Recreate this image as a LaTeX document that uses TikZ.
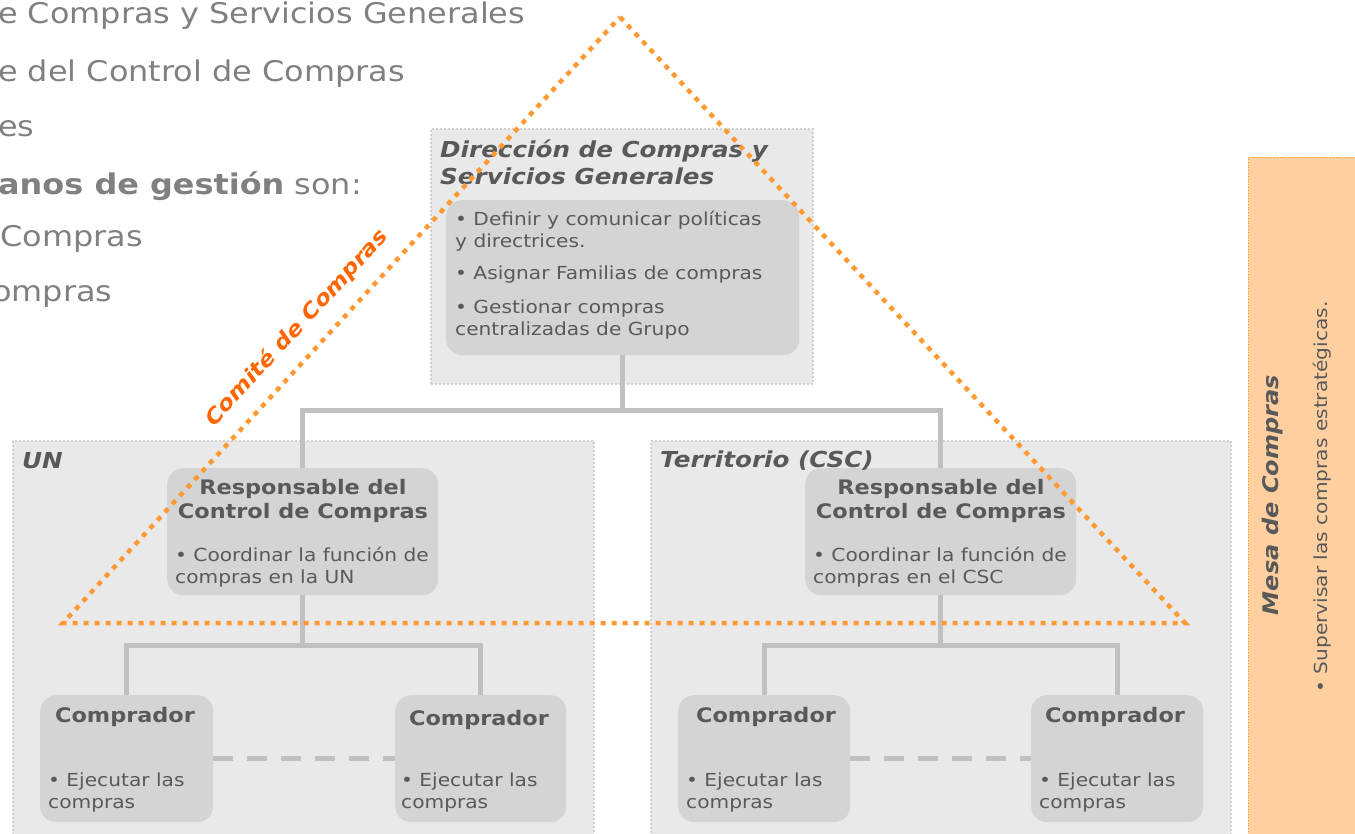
\documentclass[tikz,border=0pt]{standalone}
\usepackage{fontspec}
\setmainfont{DejaVu Sans}[FakeStretch=1.12]
\usepackage{tikz}
\usetikzlibrary{positioning}

\definecolor{txtdark}{HTML}{595959}
\definecolor{txtlight}{HTML}{808080}
\definecolor{outerfill}{HTML}{E9E9E9}
\definecolor{outerline}{HTML}{D0D0D0}
\definecolor{innerfill}{HTML}{D4D4D4}
\definecolor{connline}{HTML}{C0C0C0}
\definecolor{triorange}{HTML}{FF9933}
\definecolor{comiteorange}{HTML}{FF6600}
\definecolor{mesafill}{HTML}{FFCF9F}

\newcommand{\slidefont}{\fontsize{28.5}{32}\selectfont}
\newcommand{\boxbody}{\fontsize{18}{22}\selectfont}
\newcommand{\boxhead}{\fontsize{20}{24}\selectfont\bfseries}
\newcommand{\grouptitle}{\fontsize{22}{27}\selectfont\bfseries\itshape}

\tikzset{
  groupbox/.style={draw=outerline, fill=outerfill, dotted, line width=2pt,
    anchor=north west, inner sep=0pt},
  rolebox/.style={fill=innerfill, rounded corners=16pt, anchor=north west, inner sep=0pt},
  conn/.style={draw=connline, line width=5pt},
  dashconn/.style={draw=connline, line width=5pt, dash pattern=on 20pt off 14pt},
  trianglepath/.style={draw=triorange, line width=4.5pt, dash pattern=on 5pt off 6pt},
  bodytext/.style={text=txtdark, font=\boxbody, align=left, inner sep=0pt},
  headtext/.style={text=txtdark, font=\boxhead, align=center, inner sep=0pt},
  titletext/.style={text=txtdark, font=\grouptitle, align=left, inner sep=0pt},
}

\begin{document}
\begin{tikzpicture}[x=1pt, y=-1pt]

  \useasboundingbox (0,0) rectangle (1355,834);

  % Slide text behind the diagram (cut at the left edge).
  \node[text=txtlight, font=\slidefont, anchor=base west, inner sep=0pt] (s1) at (-2,24) {e Compras y Servicios Generales};
  \node[text=txtlight, font=\slidefont, anchor=base west, inner sep=0pt] (s2) at (-2,82) {e del Control de Compras};
  \node[text=txtlight, font=\slidefont, anchor=base west, inner sep=0pt] (s3) at (-2,137) {es};
  \node[text=txtlight, font=\slidefont, anchor=base west, inner sep=0pt] (s4) at (-2,195) {\textbf{anos de gestión} son:};
  \node[text=txtlight, font=\slidefont, anchor=base west, inner sep=0pt] (s5) at (0,247) {Compras};
  \node[text=txtlight, font=\slidefont, anchor=base west, inner sep=0pt] (s6) at (-8,302) {ompras};

  % Group boxes.
  \node[groupbox, minimum width=382pt, minimum height=255pt] (dir) at (430,128) {};
  \node[groupbox, minimum width=581pt, minimum height=410pt] (un) at (12,440) {};
  \node[groupbox, minimum width=580pt, minimum height=410pt] (csc) at (650,440) {};

  % Role boxes.
  \node[rolebox, minimum width=353pt, minimum height=155pt] (dirin) at (446,200) {};
  \node[rolebox, minimum width=271pt, minimum height=127pt] (respun) at (167,468) {};
  \node[rolebox, minimum width=271pt, minimum height=127pt] (respcsc) at (805,468) {};
  \node[rolebox, minimum width=173pt, minimum height=127pt] (compun1) at (40,695) {};
  \node[rolebox, minimum width=171pt, minimum height=127pt] (compun2) at (395,695) {};
  \node[rolebox, minimum width=172pt, minimum height=127pt] (compcsc1) at (678,695) {};
  \node[rolebox, minimum width=172pt, minimum height=127pt] (compcsc2) at (1031,695) {};

  % Connectors.
  \draw[conn] (dirin.south) -- ++(0,55) -| (respun.north);
  \draw[conn] (dirin.south) -- ++(0,55) -| (respcsc.north);
  \draw[conn] (respun.south) -- ++(0,50) -| (compun1.north);
  \draw[conn] (respun.south) -- ++(0,50) -| (compun2.north);
  \draw[conn] (respcsc.south) -- ++(0,50) -| (compcsc1.north);
  \draw[conn] (respcsc.south) -- ++(0,50) -| (compcsc2.north);
  \draw[dashconn] (compun1.east) -- (compun2.west);
  \draw[dashconn] (compcsc1.east) -- (compcsc2.west);

  % Group titles.
  \node[titletext, anchor=west] (dirtitle) at (440,162) {Dirección de Compras y\\Servicios Generales};
  \node[titletext, anchor=west] (untitle) at (22,461) {UN};
  \node[titletext, anchor=west] (csctitle) at (660,461) {Territorio (CSC)};

  % Direccion tasks.
  \node[bodytext, anchor=west] (dir1) at (455,231) {• Definir y comunicar políticas\\y directrices.};
  \node[bodytext, anchor=west] (dir2) at (455,275) {• Asignar Familias de compras};
  \node[bodytext, anchor=west] (dir3) at (455,320) {• Gestionar compras\\centralizadas de Grupo};

  % Responsables.
  \node[headtext] (respunhead) at (303,501) {Responsable del\\Control de Compras};
  \node[bodytext, anchor=west] (respuntask) at (175,567) {• Coordinar la función de\\compras en la UN};
  \node[headtext] (respcschead) at (941,501) {Responsable del\\Control de Compras};
  \node[bodytext, anchor=west] (respcsctask) at (813,567) {• Coordinar la función de\\compras en el CSC};

  % Compradores.
  \node[headtext] (cu1head) at (125,717) {Comprador};
  \node[headtext] (cu2head) at (479,720) {Comprador};
  \node[headtext] (cc1head) at (766,717) {Comprador};
  \node[headtext] (cc2head) at (1115,717) {Comprador};
  \node[bodytext, anchor=west] (cu1task) at (48,793) {• Ejecutar las\\compras};
  \node[bodytext, anchor=west] (cu2task) at (401,793) {• Ejecutar las\\compras};
  \node[bodytext, anchor=west] (cc1task) at (686,793) {• Ejecutar las\\compras};
  \node[bodytext, anchor=west] (cc2task) at (1039,793) {• Ejecutar las\\compras};

  % Comite de Compras triangle.
  \coordinate (apex) at (620,17);
  \coordinate (right) at (1185,623);
  \coordinate (left) at (63,623);
  \draw[trianglepath] (apex) -- (right) -- (left) -- cycle;
  \node[text=comiteorange, font=\fontsize{21}{25}\selectfont\bfseries\itshape, rotate=47.4, inner sep=0pt] (comite) at (297,328) {Comité de Compras};

  % Mesa de Compras.
  \node[draw=triorange, fill=mesafill, dotted, line width=0.8pt, anchor=north west,
    minimum width=112pt, minimum height=690pt, inner sep=0pt] (mesa) at (1248,157) {};
  \node[text=txtdark, font=\fontsize{21.5}{25}\selectfont\bfseries\itshape, rotate=90, inner sep=0pt] (mesatitle) at (1273,495) {Mesa de Compras};
  \node[text=txtdark, font=\boxbody, rotate=90, inner sep=0pt] (mesatask) at (1322,497) {• Supervisar las compras estratégicas.};

\end{tikzpicture}
\end{document}
